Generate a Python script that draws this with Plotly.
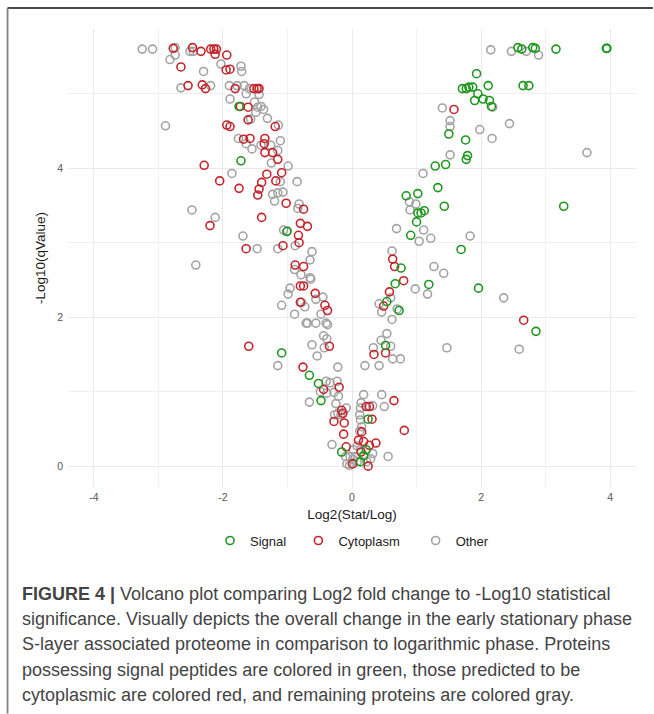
import plotly.graph_objects as go

# ---------------- data ----------------
signal_x = [2.57, 2.63, 2.80, 2.84, 3.16, 3.95, 3.94, 1.93, 1.71, 1.77, 1.81, 1.87, 2.11, 2.65, 2.74,
            1.95, 1.90, 2.03, 2.13, 2.16, 1.50, 1.76, 1.79, 1.77, 1.29, 1.45, 1.33, 0.84, 1.02, 1.07,
            1.02, 1.12, 1.43, 3.28, 1.00, 0.91, 1.69, 0.76, 0.67, 1.19, 1.96, 2.85, 0.54, 0.73, 0.52,
            0.25, 0.22, 0.18, 0.13, -1.75, -1.72, -1.01, -1.09, -0.66, -0.52, -0.48, -0.16]
signal_y = [5.62, 5.60, 5.62, 5.61, 5.60, 5.61, 5.61, 5.27, 5.07, 5.07, 5.09, 5.09, 5.11, 5.11, 5.11,
            5.00, 4.91, 4.93, 4.91, 4.83, 4.46, 4.38, 4.17, 4.12, 4.03, 4.05, 3.74, 3.63, 3.66, 3.40,
            3.40, 3.43, 3.49, 3.49, 3.28, 3.10, 2.91, 2.66, 2.45, 2.44, 2.39, 1.81, 2.21, 2.09, 1.62,
            0.63, 0.22, 0.14, 0.06, 4.83, 4.10, 3.15, 1.52, 1.22, 1.11, 0.88, 0.19]

cyto_x = [-2.77, -2.47, -2.34, -2.19, -2.14, -2.10, -2.12, -1.94, -2.65, -1.95, -1.89, -2.54, -2.32,
          -2.27, -1.81, -1.52, -1.47, -1.44, -1.73, -1.61, -1.61, -1.19, -1.94, -1.89, -1.68, -1.58,
          -1.35, -1.36, -1.35, -1.23, -1.15, -2.29, -1.09, -1.32, -2.05, -1.75, -1.40, -1.18, -1.46,
          -1.44, -1.02, -0.75, -2.20, -1.40, -0.80, -0.69, -0.83, -0.82, -1.07, -1.64, -0.88, -0.75,
          -0.80, -0.75, -0.57, -0.80, -0.42, -0.38, -0.35, -1.60, -0.76, -0.44, -0.20, -0.16, -0.14,
          -0.28, -0.12, -0.13, -0.09, 0.01,
          1.58, 0.63, 0.66, 0.80, 0.58, 0.49, 2.66, 0.52, 0.34, 0.65, 0.22, 0.27, 0.31, 0.81, 0.15,
          0.10, 0.18, 0.37, 0.27, 0.14, 0.25]
cyto_y = [5.61, 5.62, 5.57, 5.60, 5.60, 5.60, 5.53, 5.52, 5.36, 5.32, 5.33, 5.11, 5.12,
          5.07, 5.07, 5.07, 5.07, 5.07, 4.83, 4.82, 4.65, 4.56, 4.58, 4.56, 4.39, 4.40,
          4.40, 4.33, 4.21, 4.21, 4.12, 4.04, 3.94, 3.92, 3.83, 3.73, 3.81, 3.83, 3.64,
          3.72, 3.53, 3.45, 3.23, 3.34, 3.26, 3.22, 3.10, 3.00, 2.96, 2.92, 2.70, 2.68,
          2.42, 2.42, 2.32, 2.20, 2.16, 2.09, 1.61, 1.61, 1.33, 1.03, 1.06, 0.75, 0.71,
          0.60, 0.58, 0.43, 0.26, 0.03,
          4.79, 2.78, 2.68, 2.49, 2.34, 2.15, 1.96, 1.52, 1.50, 0.88, 0.80, 0.80, 0.63, 0.48, 0.46,
          0.35, 0.33, 0.31, 0.28, 0.19, 0.00]

other_x = [-3.25, -3.09, -2.74, -2.82, -2.74, -2.51, -2.46, -2.30, -2.03, -1.72, -1.71, -2.65, -2.19,
           -1.90, -1.78, -1.67, -1.59, -1.64, -1.44, -1.89, -1.51, -1.46, -1.41, -1.37, -1.49, -1.57,
           -1.31, -1.14, -2.89, -1.76, -1.64, -1.55, -1.41, -1.26, -1.11, -1.15, -1.25, -0.99, -1.86,
           -1.11, -0.85, -1.23, -1.15, -1.07, -1.20, -0.82, -0.84, -2.48, -2.12, -1.06, -1.00, -0.88,
           -1.15, -1.69, -1.47, -0.62, -0.65, -2.42, -0.89, -0.79, -0.65, -0.64, -0.96, -0.99, -0.56,
           -0.45, -0.78, -0.73, -1.09, -0.89, -0.48, -0.69, -0.71, -0.56, -0.40, -0.38, -0.44, -0.39,
           -0.62, -0.43, -0.54, -1.15, -0.22, -0.40, -0.34, -0.23, -0.49, -0.39, -0.28, -0.21, -0.66,
           -0.25, -0.22, -0.27, -0.17, -0.09, -0.31, -0.08, -0.04, 0.00, -0.03, 0.05, 0.02, 0.08,
           0.13, 0.02, 0.08, -0.10,
           2.15, 2.47, 2.70, 2.89, 2.18, 1.40, 1.52, 1.52, 1.98, 2.44, 2.17, 3.64, 1.52, 1.10, 0.89,
           0.99, 0.90, 0.69, 1.11, 1.22, 1.04, 1.83, 0.62, 1.27, 1.42, 0.98, 1.17, 2.35, 2.59, 1.47,
           0.42, 0.46, 0.60, 0.70, 0.62, 0.54, 0.45, 0.60, 0.33, 0.63, 0.75, 0.20, 0.42, 0.18, 0.14,
           0.13, 0.12, 0.13, 0.15, 0.12, 0.46, 0.50, 0.32, 0.56, 0.32, 0.29, 0.23]
other_y = [5.60, 5.60, 5.62, 5.46, 5.52, 5.57, 5.57, 5.30, 5.40, 5.37, 5.30, 5.08, 5.11,
           5.11, 5.11, 5.11, 5.07, 5.00, 4.99, 4.93, 4.89, 4.82, 4.83, 4.79, 4.75, 4.66,
           4.67, 4.58, 4.57, 4.40, 4.33, 4.26, 4.31, 4.31, 4.37, 4.24, 4.07, 4.03, 3.93,
           3.82, 3.82, 3.65, 3.67, 3.68, 3.56, 3.52, 3.46, 3.44, 3.34, 3.17, 3.16, 2.96,
           2.92, 3.09, 2.92, 2.88, 2.77, 2.70, 2.64, 2.57, 2.53, 2.51, 2.39, 2.31, 2.24,
           2.27, 2.20, 2.14, 2.16, 2.04, 2.04, 1.92, 1.92, 1.92, 1.92, 1.90, 1.75, 1.71,
           1.63, 1.59, 1.48, 1.35, 1.33, 1.14, 1.12, 1.14, 1.00, 0.98, 0.99, 0.94, 0.86,
           0.84, 0.71, 0.69, 0.69, 0.78, 0.29, 0.03, 0.01, 0.04, 0.13, 0.13, 0.22, 0.27,
           0.22, 0.09, 0.06, 0.13,
           5.59, 5.57, 5.57, 5.52, 4.82, 4.81, 4.64, 4.56, 4.52, 4.60, 4.40, 4.21, 4.18, 3.93, 3.55,
           3.52, 3.44, 3.19, 3.17, 3.06, 3.02, 3.09, 2.89, 2.68, 2.59, 2.38, 2.31, 2.26, 1.57, 1.59,
           2.18, 2.07, 2.26, 2.11, 1.97, 1.78, 1.69, 1.61, 1.59, 1.44, 1.44, 1.35, 1.35, 0.96, 0.85,
           0.78, 0.69, 0.62, 0.53, 0.47, 0.96, 0.80, 0.81, 0.13, 0.17, 0.10, 0.06]

x_ticks = [-4, -2, 0, 2, 4]
y_ticks = [0, 2, 4]

caption_lines = [
    "<b>FIGURE 4 |</b> Volcano plot comparing Log2 fold change to -Log10 statistical",
    "significance. Visually depicts the overall change in the early stationary phase",
    "S-layer associated proteome in comparison to logarithmic phase. Proteins",
    "possessing signal peptides are colored in green, those predicted to be",
    "cytoplasmic are colored red, and remaining proteins are colored gray.",
]

# ---------------- layout geometry ----------------
W, H = 654, 714
ML, MR, MT, MB = 67.5, 18, 29, 226.6
PW = W - ML - MR
PH = H - MT - MB


def px2x(px):
    return (px - ML) / PW


def py2y(py):
    return (H - MB - py) / PH


FONT = "Liberation Sans, Arial, sans-serif"
GREEN, RED, GRAY = "#1f961f", "#c4242b", "#a3a3a3"
NB = "\u00a0"

fig = go.Figure()


def add(xs, ys, name, color, rank):
    fig.add_trace(go.Scatter(
        x=xs, y=ys, mode="markers", name=name, legendrank=rank,
        marker=dict(symbol="circle-open", size=8, color=color, line=dict(width=1.6, color=color)),
    ))


add(other_x, other_y, "Other", GRAY, 3)
add(cyto_x, cyto_y, "Cytoplasm" + NB * 3, RED, 2)
add(signal_x, signal_y, "Signal" + NB * 2, GREEN, 1)

fig.update_xaxes(
    range=[-4.4, 4.4], tickvals=x_ticks, ticktext=[str(v) for v in x_ticks],
    showgrid=True, gridcolor="#e9e9e9", gridwidth=1.1, zeroline=False, showline=False,
    ticks="", tickfont=dict(family=FONT, size=10.5, color="#555555"),
    minor=dict(dtick=1, tick0=0, showgrid=True, gridcolor="#f0f0f0", gridwidth=0.8),
    title=dict(text="Log2(Stat/Log)", font=dict(family=FONT, size=13.5, color="#1a1a1a"), standoff=8),
    automargin=False, ticklabelstandoff=2,
)
fig.update_yaxes(
    range=[-0.28, 5.87], tickvals=y_ticks, ticktext=[str(v) for v in y_ticks],
    showgrid=True, gridcolor="#e9e9e9", gridwidth=1.1, zeroline=False, showline=False,
    ticks="", tickfont=dict(family=FONT, size=10.5, color="#555555"),
    minor=dict(dtick=1, tick0=0, showgrid=True, gridcolor="#f0f0f0", gridwidth=0.8),
    title=dict(text="-Log10(qValue)", font=dict(family=FONT, size=13.5, color="#1a1a1a"), standoff=8),
    automargin=False, ticklabelstandoff=4,
)

annotations = []
for i, line in enumerate(caption_lines):
    annotations.append(dict(
        text=line, xref="paper", yref="paper", x=px2x(19), y=py2y(594 + i * 25.5),
        xanchor="left", yanchor="middle", showarrow=False, align="left",
        font=dict(family=FONT, size=18, color="#444444"),
    ))

shapes = [
    dict(type="line", xref="paper", yref="paper", x0=px2x(7), x1=px2x(653), y0=py2y(8), y1=py2y(8),
         line=dict(color="#4a4a4a", width=1.8)),
    dict(type="line", xref="paper", yref="paper", x0=px2x(7), x1=px2x(7), y0=py2y(8), y1=py2y(714),
         line=dict(color="#808080", width=1.8)),
]

fig.update_layout(
    width=W, height=H, autosize=False,
    margin=dict(l=ML, r=MR, t=MT, b=MB, pad=0),
    paper_bgcolor="white", plot_bgcolor="white",
    font=dict(family=FONT, color="#333333"),
    showlegend=True,
    legend=dict(orientation="h", x=0.5, xanchor="center", y=py2y(541), yanchor="middle",
                font=dict(family=FONT, size=13, color="#222222"), itemsizing="trace",
                bgcolor="rgba(0,0,0,0)", tracegroupgap=0),
    annotations=annotations, shapes=shapes,
)

fig.write_html("out.html")
